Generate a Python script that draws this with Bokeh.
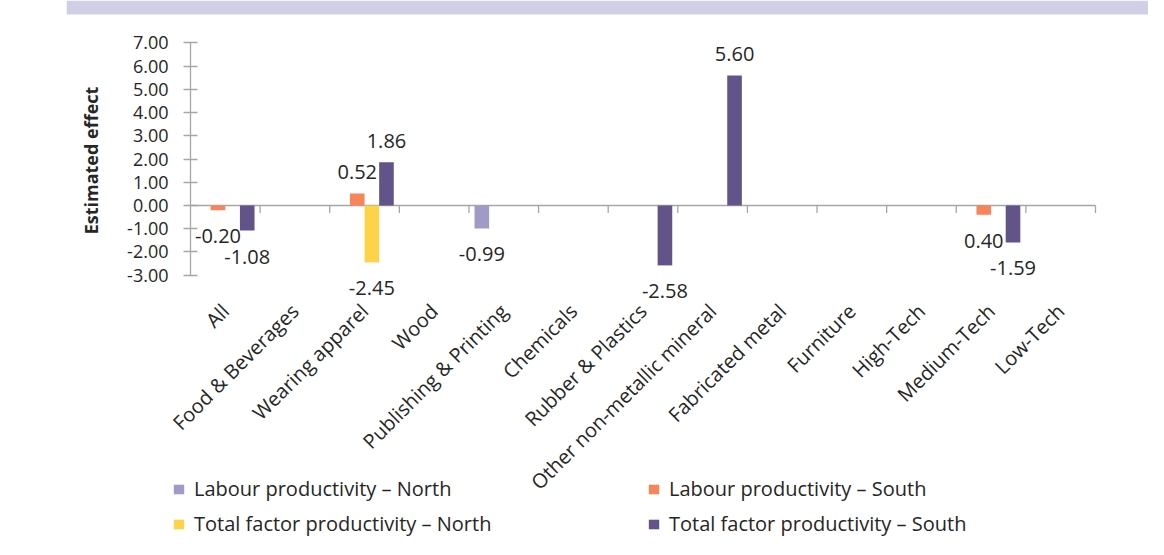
import math
from bokeh.plotting import figure
from bokeh.models import (ColumnDataSource, Range1d, FixedTicker, NumeralTickFormatter,
                          Legend, LegendItem)
from bokeh.embed import file_html
from bokeh.resources import INLINE
from bokeh.core.properties import value

nan = float("nan")

categories = ["All", "Food & Beverages", "Wearing apparel", "Wood",
              "Publishing & Printing", "Chemicals", "Rubber & Plastics",
              "Other non-metallic mineral", "Fabricated metal", "Furniture",
              "High-Tech", "Medium-Tech", "Low-Tech"]

labour_north = [nan, nan, nan, nan, -0.99, nan, nan, nan, nan, nan, nan, nan, nan]
labour_south = [-0.20, nan, 0.52, nan, nan, nan, nan, nan, nan, nan, nan, -0.40, nan]
tfp_north = [nan, nan, -2.45, nan, nan, nan, nan, nan, nan, nan, nan, nan, nan]
tfp_south = [-1.08, nan, 1.86, nan, nan, nan, -2.58, 5.60, nan, nan, nan, -1.59, nan]

labour_north_labels = ["", "", "", "", "-0.99", "", "", "", "", "", "", "", ""]
labour_south_labels = ["-0.20", "", "0.52", "", "", "", "", "", "", "", "", "0.40", ""]
tfp_north_labels = ["", "", "-2.45", "", "", "", "", "", "", "", "", "", ""]
tfp_south_labels = ["-1.08", "", "1.86", "", "", "", "-2.58", "5.60", "", "", "", "-1.59", ""]

series_names = ["Labour productivity \u2013 North", "Labour productivity \u2013 South",
                "Total factor productivity \u2013 North", "Total factor productivity \u2013 South"]
series_colors = ["#9f9bc6", "#f7845a", "#fdd448", "#625489"]

y_ticks = [-3, -2, -1, 0, 1, 2, 3, 4, 5, 6, 7]
y_axis_title = "Estimated effect"

FONT = "Open Sans"
TXT = "#262626"
AXIS = "#a6a6a6"
BAND = "#d0cfe6"

# ---- geometry (pixels) ----
W, H = 1148, 539
B_LEFT = 66
CAT_PX = (1095 - 190) / 13.0          # pixels per category
UNIT_PX = 23.22                       # pixels per y unit
AXIS_X = 190                          # pixel position of y axis
ZERO_Y = 205                          # pixel position of zero line
n = len(categories)
x_start = -(AXIS_X - B_LEFT) / CAT_PX
x_end = x_start + (W - B_LEFT) / CAT_PX
y_end = ZERO_Y / UNIT_PX
y_start = y_end - H / UNIT_PX

p = figure(x_range=Range1d(x_start, x_end), y_range=Range1d(y_start, y_end),
           width=W, height=H, output_backend="svg", toolbar_location=None,
           x_axis_location=None, y_axis_location="left",
           min_border_left=B_LEFT, min_border_right=0, min_border_top=0,
           min_border_bottom=0)
p.outline_line_color = None
p.xgrid.grid_line_color = None
p.ygrid.grid_line_color = None
p.background_fill_color = "white"
p.border_fill_color = "white"

# header band
p.quad(left=[x_start], right=[x_end], top=[y_end], bottom=[y_end - 14 / UNIT_PX],
       fill_color=BAND, line_color=None)

# y axis, drawn at the left edge of the first category
ya = p.yaxis[0]
ya.fixed_location = 0
ya.bounds = (-3, 7)
ya.ticker = FixedTicker(ticks=y_ticks, minor_ticks=[])
ya.formatter = NumeralTickFormatter(format="0.00")
ya.axis_line_color = AXIS
ya.axis_line_width = 1.3
ya.major_tick_line_color = AXIS
ya.major_tick_line_width = 1.3
ya.major_tick_in = 7
ya.major_tick_out = 7
ya.minor_tick_line_color = None
ya.major_label_standoff = 15
ya.major_label_text_font = FONT
ya.major_label_text_font_size = "18px"
ya.major_label_text_color = TXT

# y axis title
p.text(x=[(90.5 - AXIS_X) / CAT_PX], y=[(ZERO_Y - 160) / UNIT_PX], text=[y_axis_title],
       angle=math.pi / 2, text_align="center", text_baseline="middle",
       text_font=value(FONT), text_font_size="18px", text_font_style="bold",
       text_color=TXT)

# zero line with category boundary ticks
tick_len = 7.5 / UNIT_PX
p.segment(x0=[0], y0=[0], x1=[n], y1=[0], line_color=AXIS, line_width=1.3)
bounds = list(range(1, n + 1))
p.segment(x0=bounds, y0=[0] * n, x1=bounds, y1=[-tick_len] * n,
          line_color=AXIS, line_width=1.3)

# category labels (rotated)
CAT_LABEL_Y = -102 / UNIT_PX
p.text(x=[i + 0.5 for i in range(n)], y=[CAT_LABEL_Y] * n, text=categories,
       angle=math.pi / 4, text_align="right", text_baseline="middle",
       text_font=value(FONT), text_font_size="20px", text_color=TXT)

series_vals = [labour_north, labour_south, tfp_north, tfp_south]
series_labels = [labour_north_labels, labour_south_labels, tfp_north_labels, tfp_south_labels]
offsets = [-0.315, -0.105, 0.105, 0.315]

renderers = []
for name, vals, labs, col, off in zip(series_names, series_vals, series_labels,
                                      series_colors, offsets):
    xs = [i + 0.5 + off for i in range(n)]
    yoff = [(-21 if (v == v and v > 0) else 26) for v in vals]
    src = ColumnDataSource(dict(x=xs, val=vals, label=labs, yoff=yoff))
    r = p.vbar(x="x", top="val", bottom=0, width=0.21, source=src,
               fill_color=col, line_color=None)
    renderers.append(r)
    p.text(x="x", y="val", text="label", y_offset="yoff", source=src,
           text_align="center", text_baseline="middle",
           text_font=value(FONT), text_font_size="20px", text_color=TXT)


def make_legend(items, x, y):
    return Legend(items=items, location=(x, y), orientation="vertical", padding=0,
                  margin=0, spacing=8, glyph_width=13, glyph_height=12, label_standoff=9,
                  label_height=26, border_line_color=None, background_fill_alpha=0,
                  label_text_font=FONT, label_text_font_size="20px",
                  label_text_color=TXT)


leg1 = make_legend([LegendItem(label=series_names[0], renderers=[renderers[0]]),
                    LegendItem(label=series_names[2], renderers=[renderers[2]])],
                   172 - B_LEFT, 2)
leg2 = make_legend([LegendItem(label=series_names[1], renderers=[renderers[1]]),
                    LegendItem(label=series_names[3], renderers=[renderers[3]])],
                   647 - B_LEFT, 2)
p.add_layout(leg1)
p.add_layout(leg2)

open("out.html", "w").write(file_html(p, INLINE))
